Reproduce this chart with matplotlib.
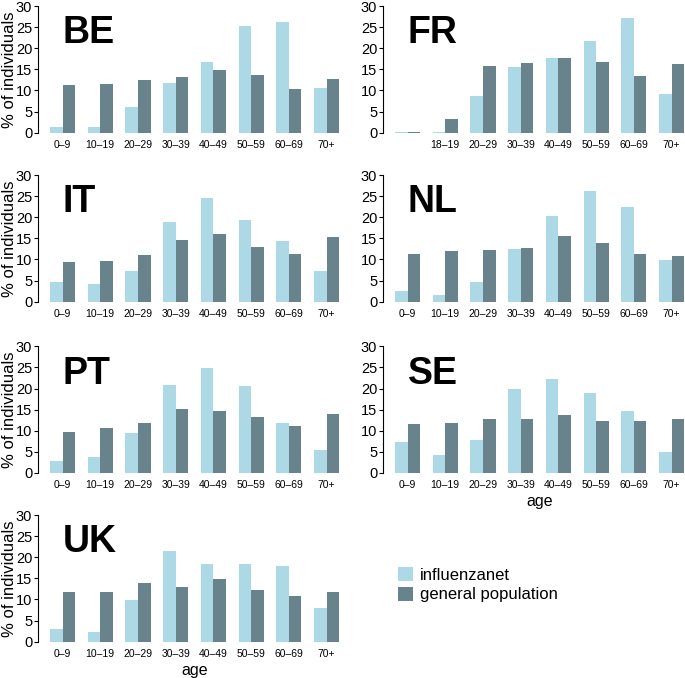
import matplotlib
matplotlib.use("Agg")
import matplotlib.pyplot as plt
from matplotlib.patches import Patch
import numpy as np

plt.rcParams['font.family'] = ['Liberation Sans', 'DejaVu Sans']

# ---- data ----
age_groups = ["0–9", "10–19", "20–29", "30–39", "40–49", "50–59", "60–69", "70+"]
age_groups_fr = ["", "18–19", "20–29", "30–39", "40–49", "50–59", "60–69", "70+"]
series_names = ["influenzanet", "general population"]

be_influenzanet = [1.4, 1.4, 6.2, 11.8, 16.8, 25.3, 26.3, 10.7]
be_general = [11.4, 11.5, 12.6, 13.3, 14.8, 13.6, 10.3, 12.8]
fr_influenzanet = [0.1, 0.1, 8.8, 15.6, 17.6, 21.7, 27.1, 9.1]
fr_general = [0.1, 3.3, 15.9, 16.5, 17.7, 16.7, 13.5, 16.3]
it_influenzanet = [4.6, 4.1, 7.3, 18.9, 24.5, 19.4, 14.3, 7.3]
it_general = [9.5, 9.6, 11.0, 14.7, 16.1, 13.0, 11.4, 15.3]
nl_influenzanet = [2.5, 1.7, 4.7, 12.6, 20.3, 26.2, 22.4, 9.9]
nl_general = [11.4, 12.1, 12.2, 12.8, 15.5, 13.8, 11.4, 10.8]
pt_influenzanet = [2.9, 3.8, 9.5, 20.8, 24.9, 20.7, 11.9, 5.4]
pt_general = [9.6, 10.7, 11.8, 15.2, 14.6, 13.3, 11.2, 13.9]
se_influenzanet = [7.3, 4.3, 7.8, 19.9, 22.3, 19.0, 14.8, 4.9]
se_general = [11.5, 11.8, 12.9, 12.9, 13.7, 12.3, 12.4, 12.7]
uk_influenzanet = [2.9, 2.2, 9.9, 21.5, 18.5, 18.5, 18.0, 7.9]
uk_general = [11.8, 11.8, 13.8, 12.9, 14.8, 12.2, 10.8, 11.8]

panels = [
    ("BE", be_influenzanet, be_general, age_groups),
    ("FR", fr_influenzanet, fr_general, age_groups_fr),
    ("IT", it_influenzanet, it_general, age_groups),
    ("NL", nl_influenzanet, nl_general, age_groups),
    ("PT", pt_influenzanet, pt_general, age_groups),
    ("SE", se_influenzanet, se_general, age_groups),
    ("UK", uk_influenzanet, uk_general, age_groups),
]

light = "#ADD8E6"
dark = "#68838B"

# ---- layout (pixels) ----
W, H = 685, 678
fig = plt.figure(figsize=(W / 100, H / 100), dpi=100)

zero_px = [132.7, 301.7, 473.0, 641.7]
left_px = [38.4, 383.4]
ppu_x = 12.57
ppu_y = 4.222
xlim = (0.08, 24.92)
ylim = (-1.2, 31.2)
aw = (xlim[1] - xlim[0]) * ppu_x
ah = (ylim[1] - ylim[0]) * ppu_y

for idx, (name, infl, gen, labels) in enumerate(panels):
    col, row = idx % 2, idx // 2
    bottom_px = zero_px[row] + (0 - ylim[0]) * ppu_y
    ax = fig.add_axes([left_px[col] / W, (H - bottom_px) / H, aw / W, ah / H])
    n = len(infl)
    base = 1 + 3 * np.arange(n)
    ax.bar(base + 0.5, infl, width=1.0, color=light, linewidth=0)
    ax.bar(base + 1.5, gen, width=1.0, color=dark, linewidth=0)
    ax.set_xlim(*xlim)
    ax.set_ylim(*ylim)
    ax.set_xticks(base + 1)
    ax.set_xticklabels(labels)
    ax.set_yticks([0, 5, 10, 15, 20, 25, 30])
    ax.tick_params(axis='x', length=0, pad=1.5, labelsize=7.5)
    ax.tick_params(axis='y', length=3, width=0.8, pad=1.5, labelsize=10.5)
    for s in ("top", "right", "bottom"):
        ax.spines[s].set_visible(False)
    ax.spines["left"].set_bounds(0, 30)
    ax.spines["left"].set_linewidth(0.8)
    ax.patch.set_alpha(0)
    ax.text(2.0, 27.8, name, fontsize=27, fontweight='bold', ha='left', va='top')
    if col == 0:
        ax.set_ylabel("% of individuals", fontsize=12, va='center')
        ax.yaxis.set_label_coords(-(left_px[0] - 9) / aw, 0.5)
    if name in ("SE", "UK"):
        ax.set_xlabel("age", fontsize=11.5, va='center')
        ax.xaxis.set_label_coords(0.5, -(28.5 - (0 - ylim[0]) * ppu_y) / ah)

handles = [Patch(facecolor=light, edgecolor='none'), Patch(facecolor=dark, edgecolor='none')]
fig.legend(handles, series_names, loc='upper left',
           bbox_to_anchor=(398 / W, 1 - 567 / H), frameon=False, fontsize=12,
           handlelength=0.9, handleheight=0.9, handletextpad=0.4,
           labelspacing=0.25, borderpad=0, borderaxespad=0)

fig.savefig("out.png", dpi=100)
